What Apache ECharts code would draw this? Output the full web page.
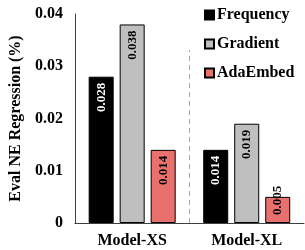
<!DOCTYPE html>
<html>
<head>
<meta charset="utf-8">
<script src="https://cdn.jsdelivr.net/npm/echarts@6/dist/echarts.min.js"></script>
<style>
  html, body { margin: 0; padding: 0; background: #fff; }
  #main { width: 305px; height: 250px; }
</style>
</head>
<body>
<div id="main"></div>
<script>
var categories = ['Model-XS', 'Model-XL'];
var frequency = [0.028, 0.014];
var gradient = [0.038, 0.019];
var adaEmbed = [0.014, 0.005];
var yTicks = [0, 0.01, 0.02, 0.03, 0.04];

var serif = '"Liberation Serif", "Times New Roman", serif';

function barLabel(color) {
    return {
        show: true,
        position: 'insideTop',
        rotate: 90,
        align: 'right',
        verticalAlign: 'middle',
        distance: 6,
        color: color,
        fontFamily: serif,
        fontWeight: 'bold',
        fontSize: 13,
        formatter: function (p) { return p.value.toFixed(3); }
    };
}

// the short bar's label does not fit under the top, so it starts from the bottom
var adaData = adaEmbed.map(function (v) {
    if (v < 0.008) {
        return { value: v, label: { position: 'insideBottom', align: 'left', distance: 8 } };
    }
    return v;
});

var myChart = echarts.init(document.getElementById('main'));
var option = {
    animation: false,
    backgroundColor: '#fff',
    grid: { left: 68, right: 1, top: 14, bottom: 27 },
    legend: {
        data: ['Frequency', 'Gradient', 'AdaEmbed'],
        orient: 'vertical',
        left: 199,
        top: 2,
        itemWidth: 9,
        itemHeight: 9,
        itemGap: 13,
        icon: 'rect',
        textStyle: { fontFamily: serif, fontWeight: 'bold', fontSize: 16, color: '#000', padding: [0, 0, 0, -2] }
    },
    xAxis: [{
        type: 'category',
        data: categories,
        axisLine: { lineStyle: { color: '#404040', width: 1 } },
        axisTick: { show: false },
        axisLabel: { margin: 10, color: '#000', fontFamily: serif, fontWeight: 'bold', fontSize: 16 }
    }, {
        type: 'value',
        min: 0,
        max: 2,
        show: false
    }],
    yAxis: {
        type: 'value',
        min: yTicks[0],
        max: yTicks[yTicks.length - 1],
        interval: 0.01,
        name: 'Eval NE Regression (%)',
        nameLocation: 'middle',
        nameGap: 45,
        nameTextStyle: { color: '#000', fontFamily: serif, fontWeight: 'bold', fontSize: 16 },
        axisLine: { show: true, lineStyle: { color: '#404040', width: 1 } },
        axisTick: { show: false },
        splitLine: { show: false },
        axisLabel: {
            margin: 12,
            color: '#000',
            fontFamily: serif,
            fontWeight: 'bold',
            fontSize: 16,
            formatter: function (v) { return v === 0 ? '0' : v.toFixed(2); }
        }
    },
    series: [{
        name: 'Frequency',
        type: 'bar',
        data: frequency,
        barWidth: 25,
        barGap: '24%',
        itemStyle: { color: '#000', borderColor: '#000', borderWidth: 1 },
        label: barLabel('#fff')
    }, {
        name: 'Gradient',
        type: 'bar',
        data: gradient,
        barWidth: 25,
        barGap: '24%',
        itemStyle: { color: '#bfbfbf', borderColor: '#000', borderWidth: 1 },
        label: barLabel('#000')
    }, {
        name: 'AdaEmbed',
        type: 'bar',
        data: adaData,
        barWidth: 25,
        barGap: '24%',
        itemStyle: { color: '#e8716d', borderColor: '#000', borderWidth: 1 },
        label: barLabel('#000')
    }, {
        name: 'divider',
        type: 'line',
        xAxisIndex: 1,
        data: [],
        markLine: {
            silent: true,
            symbol: 'none',
            label: { show: false },
            lineStyle: { color: '#a6a6a6', type: [5, 4], width: 1 },
            data: [[{ coord: [1, 0] }, { coord: [1, 0.0331] }]]
        }
    }]
};

if (option && typeof option === 'object') {
    myChart.setOption(option);
}
</script>
</body>
</html>
